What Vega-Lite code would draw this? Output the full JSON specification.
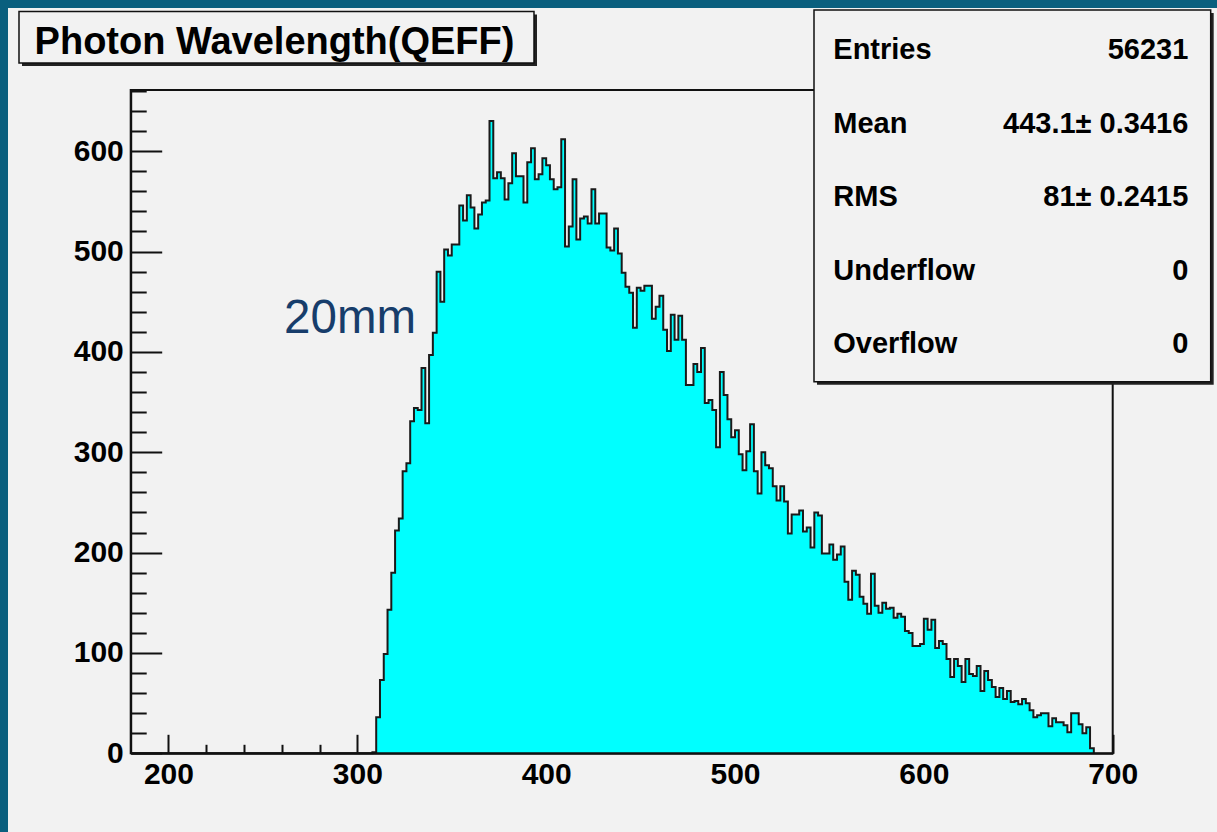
{
  "$schema": "https://vega.github.io/schema/vega-lite/v6.json",
  "width": 1209,
  "height": 824,
  "autosize": {"type": "none"},
  "padding": {"left": 8, "top": 8, "right": 0, "bottom": 0},
  "background": "#0a5f7e",
  "config": {
    "view": {"fill": "#f2f2f2", "stroke": null},
    "axis": {
      "grid": false, "title": null, "labelFont": "Liberation Sans", "labelFontWeight": "bold",
      "labelFontSize": 30, "labelColor": "#000", "tickColor": "#111", "tickWidth": 2,
      "domainColor": "#111", "domainWidth": 2, "labelFlush": false, "labelOverlap": false,
      "labelBound": false, "zindex": 2
    }
  },
  "datasets": {
    "hist": [
      {"wl":180,"n":0},{"wl":308,"n":1},
      {"wl":310,"n":36},{"wl":312,"n":73},{"wl":314,"n":99},{"wl":316,"n":143},{"wl":318,"n":180},{"wl":320,"n":222},{"wl":322,"n":234},{"wl":324,"n":281},{"wl":326,"n":289},{"wl":328,"n":331},
      {"wl":330,"n":344},{"wl":332,"n":342},{"wl":334,"n":384},{"wl":336,"n":329},{"wl":338,"n":397},{"wl":340,"n":419},{"wl":342,"n":480},{"wl":344,"n":450},{"wl":346,"n":502},{"wl":348,"n":496},
      {"wl":350,"n":507},{"wl":352,"n":507},{"wl":354,"n":546},{"wl":356,"n":531},{"wl":358,"n":556},{"wl":360,"n":544},{"wl":362,"n":523},{"wl":364,"n":537},{"wl":366,"n":549},{"wl":368,"n":551},
      {"wl":370,"n":630},{"wl":372,"n":573},{"wl":374,"n":579},{"wl":376,"n":573},{"wl":378,"n":552},{"wl":380,"n":568},{"wl":382,"n":598},{"wl":384,"n":575},{"wl":386,"n":575},{"wl":388,"n":549},
      {"wl":390,"n":589},{"wl":392,"n":603},{"wl":394,"n":572},{"wl":396,"n":577},{"wl":398,"n":593},{"wl":400,"n":586},{"wl":402,"n":572},{"wl":404,"n":562},{"wl":406,"n":564},{"wl":408,"n":612},
      {"wl":410,"n":505},{"wl":412,"n":525},{"wl":414,"n":572},{"wl":416,"n":512},{"wl":418,"n":533},{"wl":420,"n":535},{"wl":422,"n":528},{"wl":424,"n":562},{"wl":426,"n":528},{"wl":428,"n":538},
      {"wl":430,"n":538},{"wl":432,"n":504},{"wl":434,"n":501},{"wl":436,"n":523},{"wl":438,"n":498},{"wl":440,"n":479},{"wl":442,"n":465},{"wl":444,"n":459},{"wl":446,"n":424},{"wl":448,"n":464},
      {"wl":450,"n":461},{"wl":452,"n":466},{"wl":454,"n":466},{"wl":456,"n":433},{"wl":458,"n":445},{"wl":460,"n":456},{"wl":462,"n":422},{"wl":464,"n":401},{"wl":466,"n":437},{"wl":468,"n":412},
      {"wl":470,"n":436},{"wl":472,"n":412},{"wl":474,"n":367},{"wl":476,"n":367},{"wl":478,"n":388},{"wl":480,"n":380},{"wl":482,"n":404},{"wl":484,"n":349},{"wl":486,"n":352},{"wl":488,"n":342},
      {"wl":490,"n":305},{"wl":492,"n":380},{"wl":494,"n":357},{"wl":496,"n":333},{"wl":498,"n":315},{"wl":500,"n":322},{"wl":502,"n":298},{"wl":504,"n":282},{"wl":506,"n":301},{"wl":508,"n":328},
      {"wl":510,"n":281},{"wl":512,"n":259},{"wl":514,"n":300},{"wl":516,"n":287},{"wl":518,"n":284},{"wl":520,"n":266},{"wl":522,"n":252},{"wl":524,"n":266},{"wl":526,"n":251},{"wl":528,"n":219},
      {"wl":530,"n":238},{"wl":532,"n":238},{"wl":534,"n":242},{"wl":536,"n":221},{"wl":538,"n":225},{"wl":540,"n":205},{"wl":542,"n":240},{"wl":544,"n":237},{"wl":546,"n":199},{"wl":548,"n":199},
      {"wl":550,"n":208},{"wl":552,"n":193},{"wl":554,"n":198},{"wl":556,"n":206},{"wl":558,"n":171},{"wl":560,"n":153},{"wl":562,"n":182},{"wl":564,"n":178},{"wl":566,"n":156},{"wl":568,"n":149},
      {"wl":570,"n":139},{"wl":572,"n":179},{"wl":574,"n":147},{"wl":576,"n":140},{"wl":578,"n":150},{"wl":580,"n":144},{"wl":582,"n":145},{"wl":584,"n":135},{"wl":586,"n":139},{"wl":588,"n":136},
      {"wl":590,"n":122},{"wl":592,"n":120},{"wl":594,"n":107},{"wl":596,"n":107},{"wl":598,"n":109},{"wl":600,"n":134},{"wl":602,"n":123},{"wl":604,"n":133},{"wl":606,"n":105},{"wl":608,"n":112},
      {"wl":610,"n":109},{"wl":612,"n":94},{"wl":614,"n":76},{"wl":616,"n":94},{"wl":618,"n":87},{"wl":620,"n":71},{"wl":622,"n":94},{"wl":624,"n":79},{"wl":626,"n":77},{"wl":628,"n":87},
      {"wl":630,"n":62},{"wl":632,"n":82},{"wl":634,"n":73},{"wl":636,"n":66},{"wl":638,"n":56},{"wl":640,"n":65},{"wl":642,"n":54},{"wl":644,"n":62},{"wl":646,"n":51},{"wl":648,"n":52},
      {"wl":650,"n":49},{"wl":652,"n":54},{"wl":654,"n":50},{"wl":656,"n":43},{"wl":658,"n":36},{"wl":660,"n":38},{"wl":662,"n":40},{"wl":664,"n":40},{"wl":666,"n":27},{"wl":668,"n":35},
      {"wl":670,"n":31},{"wl":672,"n":31},{"wl":674,"n":28},{"wl":676,"n":21},{"wl":678,"n":40},{"wl":680,"n":40},{"wl":682,"n":29},{"wl":684,"n":20},{"wl":686,"n":26},{"wl":688,"n":5},
      {"wl":690,"n":0}
    ]
  },
  "resolve": {"axis": {"x": "independent", "y": "independent"}},
  "layer": [
    {
      "data": {"name": "hist"},
      "mark": {"type": "area", "interpolate": "step-after", "color": "#00ffff"},
      "encoding": {
        "x": {"field": "wl", "type": "quantitative",
          "scale": {"domain": [180, 700], "range": [122.7, 1104.7], "nice": false, "zero": false},
          "axis": {"orient": "bottom", "values": [200, 300, 400, 500, 600, 700], "tickSize": -19, "labelPadding": 25, "offset": -78.7}},
        "y": {"field": "n", "type": "quantitative",
          "scale": {"domain": [0, 661], "range": [745.3, 82], "nice": false},
          "axis": {"orient": "left", "values": [0, 100, 200, 300, 400, 500, 600], "tickSize": -31, "labelPadding": 38.4, "offset": -122.7}}
      }
    },
    {
      "data": {"name": "hist"},
      "mark": {"type": "line", "interpolate": "step-after", "color": "#1a1a1a", "strokeWidth": 2},
      "encoding": {
        "x": {"field": "wl", "type": "quantitative", "axis": null},
        "y": {"field": "n", "type": "quantitative", "axis": null}
      }
    },
    {
      "data": {"values": [{}]},
      "mark": {"type": "rect", "filled": false, "stroke": "#111", "strokeWidth": 2},
      "encoding": {
        "x": {"datum": 180, "type": "quantitative",
          "axis": {"orient": "bottom", "values": [220,240,260,280,320,340,360,380,420,440,460,480,520,540,560,580,620,640,660,680], "labels": false, "domain": false, "tickSize": -9, "offset": -78.7}},
        "x2": {"datum": 700},
        "y": {"datum": 0, "type": "quantitative",
          "axis": {"orient": "left", "values": [20,40,60,80,120,140,160,180,220,240,260,280,320,340,360,380,420,440,460,480,520,540,560,580,620,640,660], "labels": false, "domain": false, "tickSize": -15.5, "offset": -122.7}},
        "y2": {"datum": 661}
      }
    },
    {
      "data": {"values": [{}]},
      "mark": {"type": "rect", "color": "#222"},
      "encoding": {
        "x": {"datum": 122.44, "type": "quantitative", "axis": null}, "x2": {"datum": 395.15},
        "y": {"datum": 736.25, "type": "quantitative", "axis": null}, "y2": {"datum": 684.9}
      }
    },
    {
      "data": {"values": [{}]},
      "mark": {"type": "rect", "fill": "#f2f2f2", "stroke": "#111", "strokeWidth": 1.5},
      "encoding": {
        "x": {"datum": 120.85, "type": "quantitative", "axis": null}, "x2": {"datum": 393.56},
        "y": {"datum": 739.2, "type": "quantitative", "axis": null}, "y2": {"datum": 687.9}
      }
    },
    {
      "data": {"values": [{}]},
      "mark": {"type": "text", "text": "Photon Wavelength(QEFF)", "font": "Liberation Sans", "fontWeight": "bold", "fontSize": 38, "color": "#000", "align": "center", "baseline": "alphabetic"},
      "encoding": {
        "x": {"datum": 256.15, "type": "quantitative", "axis": null},
        "y": {"datum": 696.9, "type": "quantitative", "axis": null}
      }
    },
    {
      "data": {"values": [{}]},
      "mark": {"type": "rect", "color": "#222"},
      "encoding": {
        "x": {"datum": 543.42, "type": "quantitative", "axis": null}, "x2": {"datum": 753.48},
        "y": {"datum": 737.74, "type": "quantitative", "axis": null}, "y2": {"datum": 367.33}
      }
    },
    {
      "data": {"values": [{}]},
      "mark": {"type": "rect", "fill": "#f2f2f2", "stroke": "#111", "strokeWidth": 1.5},
      "encoding": {
        "x": {"datum": 541.83, "type": "quantitative", "axis": null}, "x2": {"datum": 751.89},
        "y": {"datum": 740.73, "type": "quantitative", "axis": null}, "y2": {"datum": 370.3}
      }
    },
    {
      "data": {"values": [{}]},
      "mark": {"type": "text", "text": ["Entries", "Mean", "RMS", "Underflow", "Overflow"], "lineHeight": 73.6, "font": "Liberation Sans", "fontWeight": "bold", "fontSize": 29, "color": "#000", "align": "left", "baseline": "alphabetic"},
      "encoding": {
        "x": {"datum": 552.05, "type": "quantitative", "axis": null},
        "y": {"datum": 691.9, "type": "quantitative", "axis": null}
      }
    },
    {
      "data": {"values": [{}]},
      "mark": {"type": "text", "text": ["56231", "443.1± 0.3416", "81± 0.2415", "0", "0"], "lineHeight": 73.6, "font": "Liberation Sans", "fontWeight": "bold", "fontSize": 29, "color": "#000", "align": "right", "baseline": "alphabetic"},
      "encoding": {
        "x": {"datum": 740.03, "type": "quantitative", "axis": null},
        "y": {"datum": 691.9, "type": "quantitative", "axis": null}
      }
    },
    {
      "data": {"values": [{}]},
      "mark": {"type": "text", "text": "20mm", "font": "Liberation Sans", "fontSize": 47.5, "color": "#173d6b", "align": "left", "baseline": "alphabetic"},
      "encoding": {
        "x": {"datum": 261.2, "type": "quantitative", "axis": null},
        "y": {"datum": 418.5, "type": "quantitative", "axis": null}
      }
    }
  ]
}
